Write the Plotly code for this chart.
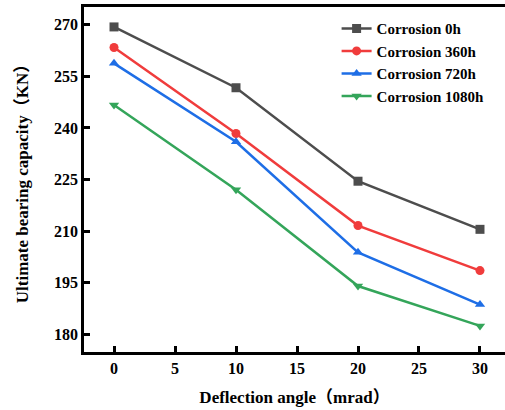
import plotly.graph_objects as go

angles = [0, 10, 20, 30]
series_names = ["Corrosion 0h", "Corrosion 360h", "Corrosion 720h", "Corrosion 1080h"]
cap_0h = [269.4, 251.7, 224.5, 210.5]
cap_360h = [263.4, 238.4, 211.6, 198.5]
cap_720h = [258.8, 236.0, 203.8, 188.6]
cap_1080h = [246.7, 222.0, 194.0, 182.4]
y_ticks = [180, 195, 210, 225, 240, 255, 270]
x_ticks = [0, 5, 10, 15, 20, 25, 30]

colors = ["#4d4d4d", "#f03c3c", "#1e6ee6", "#34a55a"]
symbols = ["square", "circle", "triangle-up", "triangle-down"]

fig = go.Figure()
for name, vals, c, s in zip(series_names, [cap_0h, cap_360h, cap_720h, cap_1080h], colors, symbols):
    fig.add_trace(go.Scatter(x=angles, y=vals, name=name, mode="lines+markers",
                             line=dict(color=c, width=2.5),
                             marker=dict(symbol=s, size=9, color=c)))

font_family = "Liberation Serif, Noto Sans CJK SC"
fig.update_layout(
    width=505, height=410,
    margin=dict(l=84, r=0, t=7, b=58),
    paper_bgcolor="white", plot_bgcolor="white",
    font=dict(family=font_family, color="black"),
    showlegend=True,
    legend=dict(x=0.6, y=0.985, xanchor="left", yanchor="top",
                font=dict(family=font_family, size=15, color="black", weight="bold"),
                bgcolor="rgba(255,255,255,0)", tracegroupgap=0, itemwidth=30),
    xaxis=dict(range=[-2.46, 32.05], tickvals=x_ticks, showgrid=False, zeroline=False,
               showline=True, linecolor="black", linewidth=2.5, mirror=True,
               ticks="inside", ticklen=6, tickwidth=2.5, tickcolor="black",
               tickfont=dict(family=font_family, size=16, weight="bold"),
               title=dict(text="Deflection angle（mrad）", standoff=16,
                          font=dict(family=font_family, size=17, weight="bold"))),
    yaxis=dict(range=[174.8, 275.2], tickvals=y_ticks, showgrid=False, zeroline=False,
               showline=True, linecolor="black", linewidth=2.5, mirror=False,
               ticks="inside", ticklen=6, tickwidth=2.5, tickcolor="black",
               tickfont=dict(family=font_family, size=16, weight="bold"),
               title=dict(text="Ultimate bearing capacity（KN）", standoff=22,
                          font=dict(family=font_family, size=17, weight="bold"))),
)

fig.write_html("out.html")
